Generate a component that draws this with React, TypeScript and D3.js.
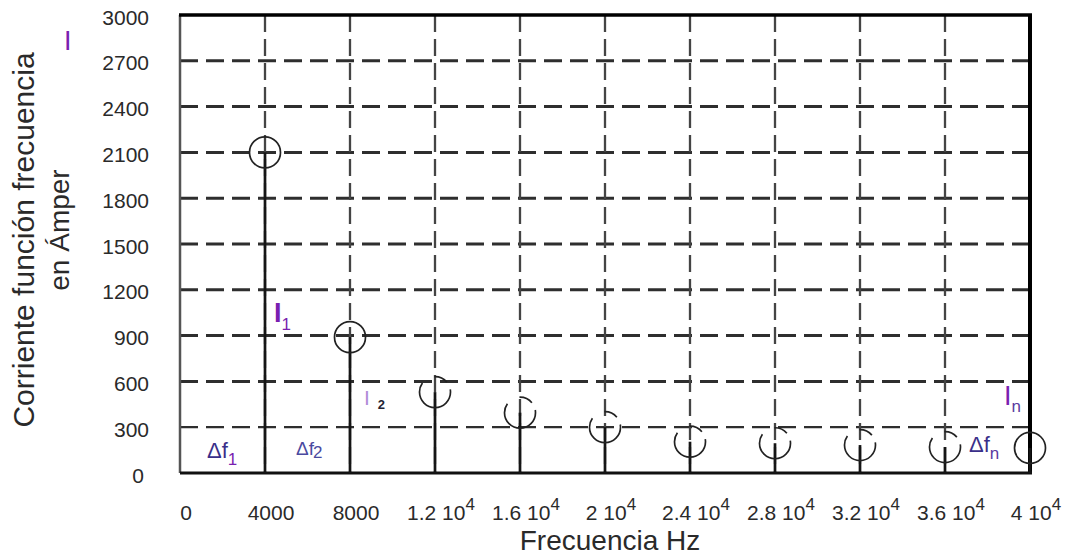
import React, { useRef, useEffect } from 'react';
import * as d3 from 'd3';

// Harmonic current amplitudes (A) at each frequency (Hz)
const frequencies = [4000, 8000, 12000, 16000, 20000, 24000, 28000, 32000, 36000, 40000];
const amplitudes = [2100, 890, 530, 395, 300, 205, 195, 183, 170, 164];

const yTicks = [0, 300, 600, 900, 1200, 1500, 1800, 2100, 2400, 2700, 3000];
const xTicks = [0, 4000, 8000, 12000, 16000, 20000, 24000, 28000, 32000, 36000, 40000];
const xTickBase = ['0', '4000', '8000', '1.2 10', '1.6 10', '2 10', '2.4 10', '2.8 10', '3.2 10', '3.6 10', '4 10'];
const xTickExp = ['', '', '', '4', '4', '4', '4', '4', '4', '4', '4'];

const FONT = 'Arial, "Liberation Sans", sans-serif';

function SpectrumChart({ width = 1065, height = 558 }) {
  const svgRef = useRef<SVGSVGElement | null>(null);

  useEffect(() => {
    const svg = d3.select(svgRef.current);
    svg.selectAll('*').remove();

    const left = 180, right = 1030, top = 15, bottom = 473;

    const x = d3.scaleLinear().domain([0, 40000]).range([left, right]);
    const y = d3.scaleLinear().domain([0, 3000]).range([bottom, top]);

    svg.attr('width', width).attr('height', height)
      .style('font-family', FONT);

    svg.append('rect').attr('width', width).attr('height', height).attr('fill', '#fff');

    // horizontal dashed grid
    svg.selectAll('.hgrid')
      .data(yTicks.filter(t => t > 0 && t < 3000))
      .enter()
      .append('line')
      .attr('x1', left).attr('x2', right)
      .attr('y1', d => y(d)).attr('y2', d => y(d))
      .attr('stroke', '#2e2e2e')
      .attr('stroke-width', d => (d === 300 ? 2.2 : 3))
      .attr('stroke-dasharray', '18,8');

    // vertical dashed grid
    svg.selectAll('.vgrid')
      .data(xTicks.filter(t => t > 0 && t < 40000))
      .enter()
      .append('line')
      .attr('x1', d => x(d)).attr('x2', d => x(d))
      .attr('y1', top).attr('y2', bottom)
      .attr('stroke', '#444')
      .attr('stroke-width', 2.3)
      .attr('stroke-dasharray', '17,7');

    // frame
    svg.append('line').attr('x1', left).attr('x2', left).attr('y1', top).attr('y2', bottom)
      .attr('stroke', '#555').attr('stroke-width', 2.5);
    svg.append('line').attr('x1', left - 1).attr('x2', right + 2).attr('y1', top).attr('y2', top)
      .attr('stroke', '#000').attr('stroke-width', 3.5);
    svg.append('line').attr('x1', right).attr('x2', right).attr('y1', top).attr('y2', bottom)
      .attr('stroke', '#000').attr('stroke-width', 4);
    svg.append('line').attr('x1', left).attr('x2', right + 2).attr('y1', bottom).attr('y2', bottom)
      .attr('stroke', '#111').attr('stroke-width', 3);

    // stems
    svg.selectAll('.stem')
      .data(frequencies)
      .enter()
      .append('line')
      .attr('x1', d => x(d)).attr('x2', d => x(d))
      .attr('y1', y(0))
      .attr('y2', (d, i) => y(amplitudes[i]))
      .attr('stroke', '#151515')
      .attr('stroke-width', 2.7);

    // circles
    svg.selectAll('.mark')
      .data(frequencies)
      .enter()
      .append('circle')
      .attr('cx', d => x(d))
      .attr('cy', (d, i) => y(amplitudes[i]))
      .attr('r', 15.5)
      .attr('fill', 'none')
      .attr('stroke', '#222')
      .attr('stroke-width', 1.7)
      .attr('stroke-dasharray', (d, i) => (i >= 2 && i <= 8 ? '62,14,14,8' : null))
      .attr('stroke-dashoffset', 4);

    // y tick labels
    svg.selectAll('.ylab')
      .data(yTicks)
      .enter()
      .append('text')
      .attr('x', d => (d === 0 ? 144 : 149))
      .attr('y', d => y(d) + 4)
      .attr('dominant-baseline', 'middle')
      .attr('text-anchor', 'end')
      .style('font-size', '21px')
      .style('fill', '#2a2a2a')
      .text(d => d);

    // x tick labels
    const xl = svg.selectAll('.xlab')
      .data(xTicks)
      .enter()
      .append('text')
      .attr('x', d => x(d) + 6)
      .attr('y', 520)
      .attr('text-anchor', 'middle')
      .style('font-size', '21px')
      .style('fill', '#2a2a2a');
    xl.append('tspan').text((d, i) => xTickBase[i]);
    xl.append('tspan')
      .attr('dy', -10)
      .style('font-size', '17px')
      .text((d, i) => xTickExp[i]);

    // axis titles
    svg.append('text')
      .attr('x', 610)
      .attr('y', 550)
      .attr('text-anchor', 'middle')
      .style('font-size', '28px')
      .style('fill', '#2a2a2a')
      .text('Frecuencia Hz');

    svg.append('text')
      .attr('transform', 'translate(34,240) rotate(-90)')
      .attr('text-anchor', 'middle')
      .style('font-size', '30px')
      .style('fill', '#2a2a2a')
      .text('Corriente función frecuencia');
    svg.append('text')
      .attr('transform', 'translate(69,230) rotate(-90)')
      .attr('text-anchor', 'middle')
      .style('font-size', '28px')
      .style('fill', '#2a2a2a')
      .text('en Ámper');

    // annotations
    const purple = '#7a1fb0';
    const navy = '#3a2f8a';

    svg.append('text').attr('x', 64).attr('y', 50)
      .style('font-size', '27px').style('fill', purple).text('I');

    const i1 = svg.append('text').attr('x', x(4000) + 9).attr('y', y(990))
      .style('font-size', '27px').style('fill', purple).style('font-weight', 'bold');
    i1.append('tspan').text('I');
    i1.append('tspan').attr('dy', 8).style('font-size', '17px').style('font-weight', 'normal').text('1');

    const i2 = svg.append('text').attr('x', x(8000) + 14).attr('y', y(445))
      .style('font-size', '21px').style('fill', '#b08ad8');
    i2.append('tspan').text('I');
    i2.append('tspan').attr('dx', 8).attr('dy', 4).style('font-size', '13px')
      .style('fill', '#223').style('font-weight', 'bold').text('2');

    const iN = svg.append('text').attr('x', 1004).attr('y', y(445))
      .style('font-size', '27px').style('fill', purple);
    iN.append('tspan').text('I');
    iN.append('tspan').attr('dy', 7).style('font-size', '17px').style('fill', '#5a3aa0').text('n');

    const df1 = svg.append('text').attr('x', 207).attr('y', y(100))
      .style('font-size', '22px').style('fill', navy);
    df1.append('tspan').text('Δf');
    df1.append('tspan').attr('dy', 7).style('font-size', '17px').style('fill', purple).text('1');

    const df2 = svg.append('text').attr('x', 296).attr('y', y(120))
      .style('font-size', '19px').style('fill', '#4a4aa0');
    df2.append('tspan').text('Δf');
    df2.append('tspan').attr('dx', -1).attr('dy', 3).style('font-size', '17px').text('2');

    const dfn = svg.append('text').attr('x', 969).attr('y', y(135))
      .style('font-size', '22px').style('fill', navy);
    dfn.append('tspan').text('Δf');
    dfn.append('tspan').attr('dy', 7).style('font-size', '17px').style('fill', '#5a3aa0').text('n');
  }, [width, height]);

  return (
    <svg ref={svgRef} style={{ position: 'absolute', left: 0, top: 0, display: 'block' }}></svg>
  );
}

export default function App() {
  return <SpectrumChart />;
}
